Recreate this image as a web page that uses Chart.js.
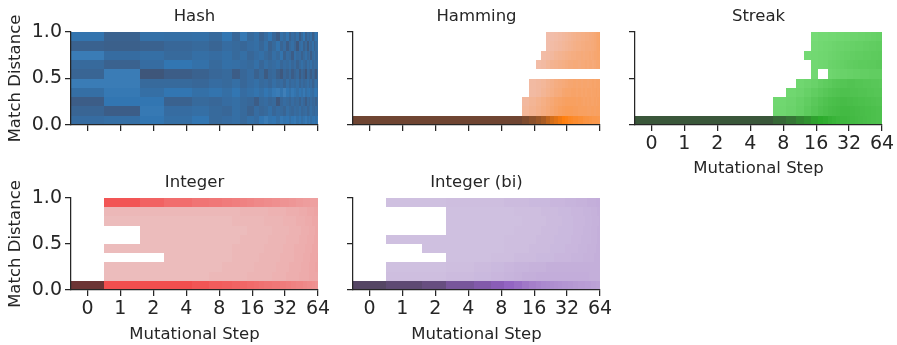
<!DOCTYPE html>
<html><head><meta charset="utf-8">
<script src="https://cdn.jsdelivr.net/npm/chart.js@4.4.1/dist/chart.umd.min.js"></script>
<style>
html,body{margin:0;padding:0;overflow:hidden;background:#fff;width:897px;height:345px;position:relative;}
canvas{position:absolute;}
</style></head><body>
<canvas id="c0"></canvas><canvas id="c1"></canvas><canvas id="c2"></canvas><canvas id="c3"></canvas><canvas id="c4"></canvas>
<script>
// ---------------- DATA ----------------
const xTickSteps = [0, 1, 2, 4, 8, 16, 32, 64];
const xTickLabels = ['0', '1', '2', '4', '8', '16', '32', '64'];
const yTickValues = [0, 0.5, 1];
const yTickLabels = ['0.0', '0.5', '1.0'];
const panelTitles = ['Hash', 'Hamming', 'Streak', 'Integer', 'Integer (bi)'];
const xAxisTitle = 'Mutational Step';
const yAxisTitle = 'Match Distance';
// step bins (columns) and match-distance bins (rows)
const stepBinEdges = [-0.5,0.5,1.5,2.5,4.5,6.5,8.5,10.5,12.5,14.5,16.5,18.5,20.5,22.5,24.5,26.5,28.5,30.5,32.5,34.5,36.5,38.5,40.5,42.5,44.5,46.5,48.5,50.5,52.5,54.5,56.5,58.5,60.5,62.5,64.5];
const distanceBinEdges = [0,0.1,0.2,0.3,0.4,0.5,0.6,0.7,0.8,0.9,1.0];
// normalized density per cell (rows from distance 0.0 upward, columns per step bin); 0 = empty
const hashDensity = [
 [0.58,0.56,0.5,0.56,0.5,0.6,0.58,0.56,0.6,0.55,0.58,0.5,0.46,0.52,0.5,0.56,0.48,0.52,0.5,0.56,0.5,0.48,0.54,0.5,0.56,0.52,0.48,0.54,0.5,0.56,0.52,0.5,0.54,0.5],
 [0.64,0.7,0.48,0.58,0.56,0.6,0.62,0.56,0.6,0.66,0.58,0.62,0.6,0.55,0.62,0.58,0.6,0.64,0.56,0.6,0.62,0.58,0.6,0.56,0.62,0.6,0.58,0.64,0.6,0.56,0.6,0.62,0.58,0.6],
 [0.7,0.5,0.5,0.66,0.6,0.62,0.58,0.56,0.6,0.62,0.7,0.6,0.58,0.62,0.6,0.74,0.62,0.58,0.6,0.64,0.58,0.62,0.6,0.66,0.58,0.62,0.7,0.6,0.64,0.58,0.62,0.6,0.66,0.6],
 [0.56,0.48,0.56,0.5,0.55,0.52,0.56,0.5,0.58,0.55,0.52,0.56,0.5,0.54,0.48,0.46,0.52,0.44,0.5,0.55,0.48,0.52,0.56,0.5,0.54,0.48,0.56,0.52,0.5,0.55,0.58,0.52,0.5,0.56],
 [0.46,0.46,0.6,0.6,0.62,0.58,0.6,0.56,0.62,0.58,0.55,0.6,0.58,0.62,0.56,0.6,0.58,0.64,0.56,0.62,0.58,0.6,0.56,0.64,0.58,0.62,0.6,0.56,0.62,0.58,0.66,0.6,0.56,0.6],
 [0.64,0.46,0.76,0.7,0.66,0.62,0.6,0.7,0.62,0.58,0.66,0.6,0.72,0.62,0.6,0.68,0.74,0.62,0.66,0.6,0.7,0.64,0.6,0.72,0.62,0.66,0.76,0.6,0.64,0.7,0.62,0.66,0.74,0.6],
 [0.6,0.66,0.58,0.5,0.54,0.6,0.55,0.56,0.58,0.6,0.55,0.62,0.56,0.6,0.58,0.55,0.62,0.58,0.6,0.56,0.62,0.58,0.66,0.6,0.55,0.6,0.64,0.56,0.6,0.55,0.62,0.58,0.6,0.56],
 [0.46,0.58,0.56,0.6,0.56,0.58,0.55,0.6,0.56,0.62,0.58,0.55,0.6,0.64,0.56,0.6,0.52,0.66,0.58,0.6,0.7,0.55,0.6,0.58,0.66,0.6,0.55,0.62,0.58,0.7,0.6,0.56,0.62,0.58],
 [0.66,0.68,0.66,0.62,0.6,0.64,0.58,0.6,0.62,0.58,0.56,0.62,0.55,0.66,0.6,0.52,0.64,0.58,0.7,0.6,0.56,0.62,0.74,0.58,0.55,0.66,0.6,0.72,0.58,0.62,0.55,0.66,0.6,0.56],
 [0.52,0.66,0.55,0.56,0.55,0.6,0.5,0.62,0.48,0.6,0.55,0.65,0.58,0.5,0.62,0.7,0.55,0.6,0.52,0.66,0.58,0.62,0.55,0.7,0.6,0.5,0.66,0.58,0.62,0.55,0.68,0.6,0.52,0.58]
];
const hammingDensity = [
 [1,1,1,1,1,1,1,1,0.95,0.9,0.85,0.8,0.72,0.65,0.6,0.55,0.5,0.48,0.45,0.44,0.42,0.42,0.4,0.4,0.38,0.37,0.37,0.36,0.36,0.35,0.35,0.35,0.34,0.34],
 [0,0,0,0,0,0,0,0,0.16,0.18,0.2,0.22,0.24,0.26,0.28,0.3,0.31,0.32,0.32,0.32,0.31,0.31,0.3,0.3,0.3,0.3,0.29,0.29,0.3,0.3,0.29,0.3,0.3,0.3],
 [0,0,0,0,0,0,0,0,0.15,0.17,0.19,0.21,0.23,0.25,0.27,0.28,0.29,0.3,0.3,0.3,0.3,0.29,0.3,0.29,0.28,0.29,0.28,0.29,0.28,0.28,0.29,0.28,0.29,0.3],
 [0,0,0,0,0,0,0,0,0,0.14,0.15,0.17,0.19,0.21,0.23,0.24,0.26,0.27,0.27,0.28,0.28,0.27,0.28,0.27,0.28,0.27,0.28,0.28,0.27,0.28,0.28,0.29,0.28,0.29],
 [0,0,0,0,0,0,0,0,0,0.14,0.15,0.16,0.18,0.2,0.22,0.23,0.24,0.25,0.26,0.26,0.27,0.26,0.27,0.26,0.27,0.27,0.26,0.27,0.27,0.28,0.27,0.28,0.28,0.28],
 [0,0,0,0,0,0,0,0,0,0,0,0,0,0,0,0,0,0,0,0,0,0,0,0,0,0,0,0,0,0,0,0,0,0],
 [0,0,0,0,0,0,0,0,0,0,0.13,0.14,0.16,0.18,0.19,0.2,0.21,0.22,0.23,0.23,0.24,0.24,0.23,0.24,0.24,0.25,0.24,0.25,0.25,0.24,0.25,0.26,0.26,0.27],
 [0,0,0,0,0,0,0,0,0,0,0,0.13,0.14,0.15,0.17,0.18,0.19,0.2,0.21,0.22,0.22,0.23,0.23,0.24,0.23,0.24,0.24,0.25,0.24,0.25,0.26,0.26,0.27,0.27],
 [0,0,0,0,0,0,0,0,0,0,0,0,0.12,0.13,0.14,0.15,0.16,0.17,0.18,0.19,0.2,0.21,0.21,0.22,0.22,0.23,0.23,0.23,0.24,0.24,0.25,0.26,0.27,0.28],
 [0,0,0,0,0,0,0,0,0,0,0,0,0.12,0.12,0.13,0.14,0.15,0.16,0.17,0.18,0.19,0.2,0.2,0.21,0.21,0.22,0.22,0.23,0.23,0.24,0.25,0.26,0.27,0.28]
];
const streakDensity = [
 [1,1,1,1,1,0.9,0.82,0.72,0.65,0.56,0.5,0.48,0.45,0.43,0.41,0.4,0.4,0.39,0.38,0.38,0.37,0.36,0.36,0.35,0.35,0.34,0.34,0.33,0.33,0.33,0.32,0.32,0.32,0.32],
 [0,0,0,0,0,0.15,0.17,0.2,0.24,0.28,0.31,0.33,0.35,0.36,0.37,0.38,0.38,0.38,0.37,0.37,0.36,0.36,0.35,0.35,0.34,0.34,0.34,0.33,0.33,0.33,0.32,0.32,0.32,0.32],
 [0,0,0,0,0,0.14,0.16,0.19,0.22,0.26,0.29,0.31,0.33,0.34,0.35,0.36,0.36,0.35,0.35,0.34,0.34,0.33,0.33,0.33,0.32,0.32,0.32,0.31,0.31,0.31,0.3,0.3,0.3,0.3],
 [0,0,0,0,0,0,0.14,0.16,0.19,0.22,0.25,0.27,0.29,0.3,0.31,0.32,0.32,0.32,0.31,0.31,0.31,0.3,0.3,0.3,0.3,0.29,0.29,0.29,0.29,0.28,0.28,0.28,0.28,0.28],
 [0,0,0,0,0,0,0,0.14,0.16,0.18,0.21,0.23,0.25,0.27,0.28,0.29,0.29,0.3,0.3,0.3,0.29,0.29,0.29,0.28,0.28,0.28,0.28,0.27,0.27,0.27,0.27,0.27,0.26,0.26],
 [0,0,0,0,0,0,0,0,0,0.13,0,0,0.15,0.16,0.17,0.18,0.18,0.19,0.19,0.2,0.2,0.2,0.21,0.21,0.21,0.21,0.22,0.22,0.22,0.22,0.22,0.22,0.22,0.22],
 [0,0,0,0,0,0,0,0,0,0.13,0.14,0.15,0.17,0.18,0.19,0.2,0.21,0.22,0.22,0.23,0.23,0.24,0.24,0.24,0.24,0.25,0.25,0.25,0.25,0.25,0.26,0.26,0.26,0.26],
 [0,0,0,0,0,0,0,0,0.12,0.13,0.14,0.15,0.16,0.17,0.18,0.19,0.2,0.2,0.21,0.21,0.22,0.22,0.22,0.23,0.23,0.23,0.23,0.24,0.24,0.24,0.24,0.25,0.25,0.25],
 [0,0,0,0,0,0,0,0,0,0.12,0.13,0.14,0.15,0.16,0.17,0.17,0.18,0.18,0.19,0.19,0.2,0.2,0.2,0.21,0.21,0.21,0.22,0.22,0.22,0.22,0.23,0.23,0.23,0.23],
 [0,0,0,0,0,0,0,0,0,0.11,0.12,0.12,0.13,0.13,0.14,0.14,0.15,0.15,0.16,0.16,0.16,0.17,0.17,0.17,0.18,0.18,0.18,0.19,0.19,0.19,0.2,0.2,0.2,0.21]
];
const integerDensity = [
 [1,0.42,0.42,0.42,0.4,0.38,0.37,0.36,0.35,0.34,0.33,0.32,0.31,0.31,0.3,0.3,0.29,0.29,0.28,0.28,0.27,0.27,0.26,0.26,0.26,0.25,0.25,0.24,0.24,0.24,0.23,0.23,0.22,0.22],
 [0,0.1,0.1,0.1,0.1,0.11,0.11,0.11,0.11,0.12,0.12,0.12,0.12,0.12,0.13,0.13,0.13,0.13,0.14,0.14,0.14,0.14,0.14,0.15,0.15,0.15,0.15,0.15,0.16,0.16,0.16,0.16,0.16,0.16],
 [0,0.1,0.1,0.1,0.1,0.1,0.11,0.11,0.11,0.11,0.12,0.12,0.12,0.12,0.12,0.13,0.13,0.13,0.13,0.14,0.14,0.14,0.14,0.14,0.15,0.15,0.15,0.15,0.16,0.16,0.16,0.16,0.17,0.17],
 [0,0,0,0.1,0.1,0.1,0.1,0.11,0.11,0.11,0.11,0.12,0.12,0.12,0.12,0.12,0.13,0.13,0.13,0.13,0.13,0.14,0.14,0.14,0.14,0.15,0.15,0.15,0.15,0.16,0.16,0.16,0.16,0.17],
 [0,0.1,0.1,0.1,0.1,0.1,0.1,0.11,0.11,0.11,0.11,0.11,0.12,0.12,0.12,0.12,0.12,0.13,0.13,0.13,0.13,0.14,0.14,0.14,0.14,0.14,0.15,0.15,0.15,0.15,0.16,0.16,0.16,0.16],
 [0,0,0.1,0.1,0.1,0.1,0.1,0.1,0.11,0.11,0.11,0.11,0.11,0.12,0.12,0.12,0.12,0.12,0.13,0.13,0.13,0.13,0.13,0.14,0.14,0.14,0.14,0.15,0.15,0.15,0.15,0.16,0.16,0.16],
 [0,0,0.1,0.1,0.1,0.1,0.1,0.1,0.1,0.11,0.11,0.11,0.11,0.11,0.12,0.12,0.12,0.12,0.12,0.13,0.13,0.13,0.13,0.13,0.14,0.14,0.14,0.14,0.15,0.15,0.15,0.15,0.16,0.16],
 [0,0.1,0.1,0.1,0.1,0.1,0.1,0.11,0.11,0.11,0.11,0.11,0.12,0.12,0.12,0.12,0.12,0.13,0.13,0.13,0.13,0.13,0.14,0.14,0.14,0.14,0.15,0.15,0.15,0.15,0.16,0.16,0.16,0.16],
 [0,0.11,0.11,0.11,0.11,0.11,0.11,0.11,0.12,0.12,0.12,0.12,0.12,0.13,0.13,0.13,0.13,0.13,0.14,0.14,0.14,0.14,0.14,0.15,0.15,0.15,0.15,0.16,0.16,0.16,0.16,0.17,0.17,0.17],
 [0,0.4,0.36,0.33,0.31,0.3,0.29,0.28,0.27,0.26,0.25,0.25,0.24,0.24,0.23,0.23,0.22,0.22,0.22,0.21,0.21,0.21,0.2,0.2,0.2,0.19,0.19,0.19,0.19,0.18,0.18,0.18,0.18,0.18]
];
const integerBiDensity = [
 [1,0.92,0.85,0.7,0.62,0.55,0.48,0.44,0.4,0.37,0.35,0.33,0.32,0.31,0.3,0.29,0.28,0.28,0.27,0.27,0.26,0.26,0.25,0.25,0.25,0.24,0.24,0.24,0.23,0.23,0.23,0.22,0.22,0.22],
 [0,0.11,0.11,0.12,0.13,0.14,0.15,0.16,0.17,0.17,0.18,0.18,0.18,0.18,0.18,0.18,0.18,0.18,0.18,0.18,0.18,0.18,0.18,0.18,0.18,0.18,0.18,0.17,0.17,0.17,0.17,0.17,0.17,0.17],
 [0,0.1,0.1,0.11,0.12,0.13,0.14,0.15,0.15,0.16,0.16,0.16,0.17,0.17,0.17,0.17,0.17,0.17,0.17,0.17,0.17,0.17,0.17,0.17,0.17,0.17,0.17,0.17,0.17,0.17,0.17,0.17,0.17,0.17],
 [0,0,0,0.1,0.1,0.11,0.11,0.12,0.12,0.12,0.13,0.13,0.13,0.13,0.14,0.14,0.14,0.14,0.14,0.15,0.15,0.15,0.15,0.15,0.16,0.16,0.16,0.16,0.16,0.16,0.17,0.17,0.17,0.17],
 [0,0,0.1,0.1,0.1,0.1,0.11,0.11,0.11,0.12,0.12,0.12,0.12,0.13,0.13,0.13,0.13,0.14,0.14,0.14,0.14,0.14,0.15,0.15,0.15,0.15,0.16,0.16,0.16,0.16,0.16,0.17,0.17,0.17],
 [0,0.1,0.1,0.1,0.1,0.1,0.11,0.11,0.11,0.11,0.12,0.12,0.12,0.12,0.13,0.13,0.13,0.13,0.13,0.14,0.14,0.14,0.14,0.15,0.15,0.15,0.15,0.15,0.16,0.16,0.16,0.16,0.17,0.17],
 [0,0,0,0.1,0.1,0.1,0.1,0.11,0.11,0.11,0.11,0.12,0.12,0.12,0.12,0.13,0.13,0.13,0.13,0.13,0.14,0.14,0.14,0.14,0.15,0.15,0.15,0.15,0.16,0.16,0.16,0.16,0.17,0.17],
 [0,0,0,0.1,0.1,0.1,0.1,0.1,0.11,0.11,0.11,0.11,0.12,0.12,0.12,0.12,0.13,0.13,0.13,0.13,0.14,0.14,0.14,0.14,0.14,0.15,0.15,0.15,0.15,0.16,0.16,0.16,0.16,0.17],
 [0,0,0,0.1,0.1,0.1,0.1,0.11,0.11,0.11,0.11,0.12,0.12,0.12,0.12,0.13,0.13,0.13,0.13,0.14,0.14,0.14,0.14,0.14,0.15,0.15,0.15,0.15,0.16,0.16,0.16,0.16,0.17,0.17],
 [0,0.1,0.1,0.11,0.11,0.11,0.12,0.12,0.12,0.13,0.13,0.13,0.13,0.14,0.14,0.14,0.14,0.15,0.15,0.15,0.15,0.16,0.16,0.16,0.16,0.16,0.17,0.17,0.17,0.17,0.17,0.18,0.18,0.18]
];
const panelDensities = [hashDensity, hammingDensity, streakDensity, integerDensity, integerBiDensity];

// ---------------- STYLE ----------------
const FONT = 'DejaVu Sans';
const TEXT = '#262626';
// colour ramp per panel: [light, pure, dark]
const panelRamps = [
  [[156,195,230],[50,118,178],[74,56,70]],
  [[237,209,219],[255,127,14],[111,69,50]],
  [[139,232,139],[44,171,44],[58,87,58]],
  [[234,222,222],[244,51,51],[108,52,52]],
  [[223,216,232],[144,96,192],[85,70,100]]
];
// canvas layout: chart-area left/top, plot height, y-axis width, x-axis height
const panelLayout = [
  {cx:71,  top:0,   plotH:93, yW:71, xH:22, yLabels:true,  xLabels:false},
  {cx:353, top:0,   plotH:93, yW:20, xH:14, yLabels:false, xLabels:false},
  {cx:635, top:0,   plotH:93, yW:20, xH:55, yLabels:false, xLabels:true},
  {cx:71,  top:166, plotH:92, yW:71, xH:56, yLabels:true,  xLabels:true},
  {cx:353, top:166, plotH:92, yW:20, xH:56, yLabels:false, xLabels:true}
];
const PLOT_W = 247, TITLE_H = 32, RIGHT_PAD = 14;

function symlog2(s) { return s <= 1 ? s : Math.log2(s) + 1; }
function rampColor(ramp, t) {
  let a, b, f;
  if (t <= 0.5) { a = ramp[0]; b = ramp[1]; f = t / 0.5; }
  else { a = ramp[1]; b = ramp[2]; f = (t - 0.5) / 0.5; }
  const c = [0,1,2].map(i => Math.round(a[i] + (b[i] - a[i]) * f));
  return 'rgb(' + c.join(',') + ')';
}
function buildCells(density) {
  const cells = [];
  for (let r = 0; r < density.length; r++) {
    for (let c = 0; c < density[r].length; c++) {
      const v = density[r][c];
      if (!v) continue;
      const s0 = stepBinEdges[c], s1 = stepBinEdges[c + 1];
      const d0 = distanceBinEdges[r], d1 = distanceBinEdges[r + 1];
      cells.push({x: (symlog2(s0) + symlog2(s1)) / 2, y: (d0 + d1) / 2, s0, s1, d0, d1, v});
    }
  }
  return cells;
}

const heatmapPlugin = {
  id: 'heatmapCells',
  beforeDraw(chart) {
    const ctx = chart.ctx, xs = chart.scales.x, ys = chart.scales.y, a = chart.chartArea;
    const ds = chart.data.datasets[0];
    ctx.save();
    ctx.beginPath();
    ctx.rect(a.left, a.top, a.right - a.left, a.bottom - a.top);
    ctx.clip();
    for (const cell of ds.data) {
      const x0 = Math.round(xs.getPixelForValue(symlog2(cell.s0)));
      const x1 = Math.round(xs.getPixelForValue(symlog2(cell.s1)));
      const yb = Math.round(ys.getPixelForValue(cell.d0));
      const yt = Math.round(ys.getPixelForValue(cell.d1));
      ctx.fillStyle = rampColor(ds.ramp, cell.v);
      ctx.fillRect(x0, yt, x1 - x0, yb - yt);
    }
    ctx.restore();
  }
};

const gridOpts = {display: true, drawOnChartArea: false, drawTicks: true, tickLength: 6, lineWidth: 1.25, color: TEXT};
const borderOpts = {display: true, color: TEXT, width: 1.25};
const tickFont = {family: FONT, size: 19, weight: 'normal'};
const labelFont = {family: FONT, size: 16.5, weight: 'normal'};

panelLayout.forEach((p, i) => {
  const cv = document.getElementById('c' + i);
  const w = p.yW + PLOT_W + RIGHT_PAD;
  const h = TITLE_H + p.plotH + p.xH;
  cv.width = w; cv.height = h;
  cv.style.left = (p.cx - p.yW) + 'px';
  cv.style.top = p.top + 'px';
  cv.style.width = w + 'px'; cv.style.height = h + 'px';
  new Chart(cv, {
    type: 'scatter',
    data: {datasets: [{data: buildCells(panelDensities[i]), ramp: panelRamps[i], pointRadius: 0, showLine: false}]},
    options: {
      responsive: false, animation: false, events: [], devicePixelRatio: 1,
      layout: {padding: {left: 0, right: RIGHT_PAD, top: 0, bottom: 0}},
      plugins: {
        legend: {display: false}, tooltip: {enabled: false},
        title: {display: true, text: panelTitles[i], fullSize: false, color: TEXT, font: labelFont,
                padding: {top: 7, bottom: TITLE_H - 7 - 19.8}}
      },
      scales: {
        x: {
          type: 'linear', min: -0.5, max: 7,
          afterBuildTicks: s => { s.ticks = xTickSteps.map(v => ({value: symlog2(v)})); },
          afterFit: s => { s.height = p.xH; },
          ticks: {display: p.xLabels, autoSkip: false, maxRotation: 0, padding: 1.5, color: TEXT, font: tickFont,
                  callback: (v, idx) => xTickLabels[idx]},
          grid: gridOpts, border: borderOpts,
          title: {display: p.xLabels, text: xAxisTitle, color: TEXT, font: labelFont, padding: {top: 0, bottom: 1.6}}
        },
        y: {
          type: 'linear', min: 0, max: 1,
          afterBuildTicks: s => { s.ticks = yTickValues.map(v => ({value: v})); },
          afterFit: s => { s.width = p.yW; },
          ticks: {display: p.yLabels, padding: 3, color: TEXT, font: tickFont,
                  callback: (v, idx) => yTickLabels[idx]},
          grid: gridOpts, border: borderOpts,
          title: {display: p.yLabels, text: yAxisTitle, color: TEXT, font: labelFont, padding: {top: 6, bottom: 0}}
        }
      }
    },
    plugins: [heatmapPlugin]
  });
});
</script>
</body></html>
